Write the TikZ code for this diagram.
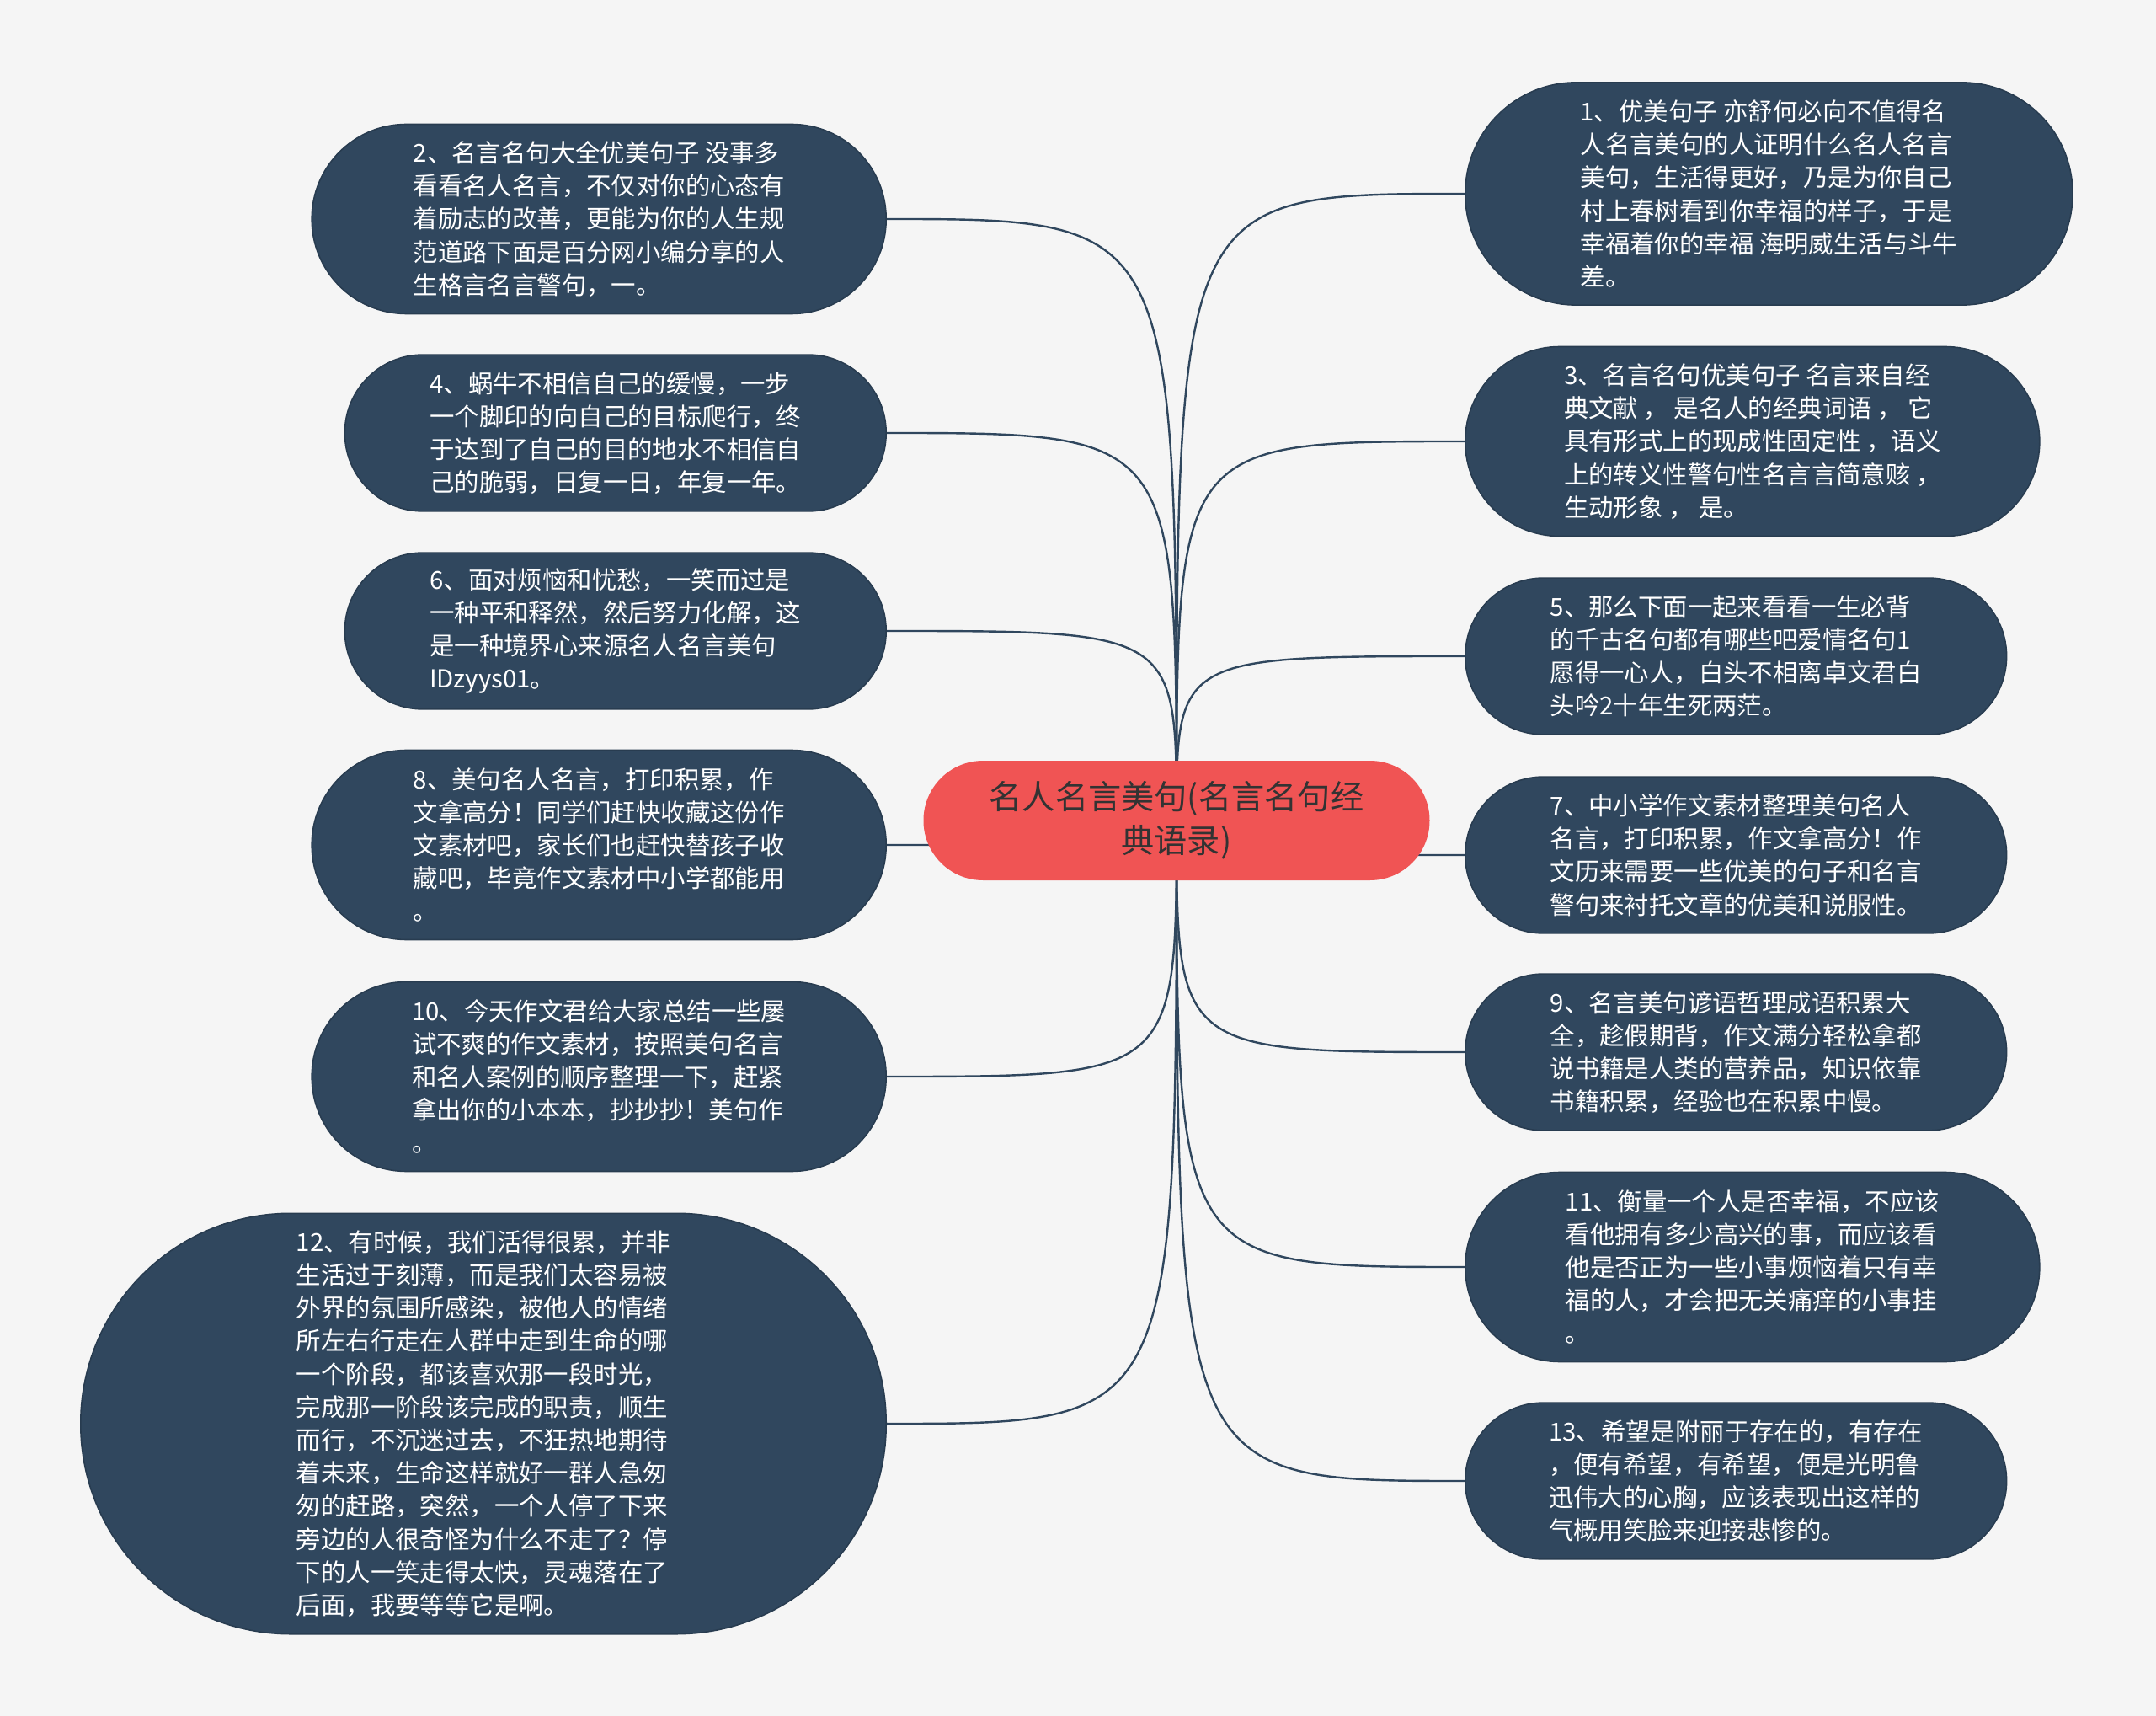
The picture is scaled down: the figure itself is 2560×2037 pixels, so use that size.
\documentclass[tikz,border=0pt]{standalone}
\usepackage{fontspec}
\newfontfamily\cjkfont{Noto Sans CJK SC}
\usepackage{tikz}
\usetikzlibrary{backgrounds}

\definecolor{pagebg}{HTML}{F5F5F5}
\definecolor{leafnavy}{HTML}{30475E}
\definecolor{leafedge}{HTML}{283C50}
\definecolor{rootred}{HTML}{F05454}
\definecolor{roottext}{HTML}{333333}

\begin{document}
\begin{tikzpicture}[x=0.5pt, y=-0.5pt]

  \tikzset{
    % #1 = number of text lines in the bubble
    leaf/.style={rectangle, draw=leafedge, fill=leafnavy,
      line width=0.8pt, text=white, align=left, inner sep=2pt,
      minimum height={(39.2*#1+29)*0.5pt},
      minimum width={(39.2*#1+486)*0.5pt},
      rounded corners={(39.2*#1+29)*0.2495pt},
      font=\cjkfont\fontsize{14.7pt}{19.6pt}\selectfont},
    rootbox/.style={rectangle, fill=rootred, text=roottext,
      minimum width=300.5pt, minimum height=71pt,
      rounded corners=35.4pt, inner sep=2pt, align=center,
      font=\cjkfont\fontsize{19.6pt}{26pt}\selectfont},
    link/.style={draw=leafnavy, line width=1.2pt}
  }

  \useasboundingbox (0,0) rectangle (2560,2037);

  \node[rootbox] (root) at (1397, 974) {
    名人名言美句(名言名句经\\
    典语录)
  };

  % left column
  \node[leaf=5, anchor=east] (l2) at (1053, 260) {
    2、名言名句大全优美句子 没事多\\
    看看名人名言，不仅对你的心态有\\
    着励志的改善，更能为你的人生规\\
    范道路下面是百分网小编分享的人\\
    生格言名言警句，一。
  };
  \node[leaf=4, anchor=east] (l4) at (1053, 514) {
    4、蜗牛不相信自己的缓慢，一步\\
    一个脚印的向自己的目标爬行，终\\
    于达到了自己的目的地水不相信自\\
    己的脆弱，日复一日，年复一年。
  };
  \node[leaf=4, anchor=east] (l6) at (1053, 749) {
    6、面对烦恼和忧愁，一笑而过是\\
    一种平和释然，然后努力化解，这\\
    是一种境界心来源名人名言美句\\
    IDzyys01。
  };
  \node[leaf=5, anchor=east] (l8) at (1053, 1003) {
    8、美句名人名言，打印积累，作\\
    文拿高分！同学们赶快收藏这份作\\
    文素材吧，家长们也赶快替孩子收\\
    藏吧，毕竟作文素材中小学都能用\\
    。
  };
  \node[leaf=5, anchor=east] (l10) at (1053, 1278) {
    10、今天作文君给大家总结一些屡\\
    试不爽的作文素材，按照美句名言\\
    和名人案例的顺序整理一下，赶紧\\
    拿出你的小本本，抄抄抄！美句作\\
    。
  };
  \node[leaf=12, anchor=east] (l12) at (1053, 1690) {
    12、有时候，我们活得很累，并非\\
    生活过于刻薄，而是我们太容易被\\
    外界的氛围所感染，被他人的情绪\\
    所左右行走在人群中走到生命的哪\\
    一个阶段，都该喜欢那一段时光，\\
    完成那一阶段该完成的职责，顺生\\
    而行，不沉迷过去，不狂热地期待\\
    着未来，生命这样就好一群人急匆\\
    匆的赶路，突然，一个人停了下来\\
    旁边的人很奇怪为什么不走了？停\\
    下的人一笑走得太快，灵魂落在了\\
    后面，我要等等它是啊。
  };

  % right column
  \node[leaf=6, anchor=west] (r1) at (1739, 230) {
    1、优美句子 亦舒何必向不值得名\\
    人名言美句的人证明什么名人名言\\
    美句，生活得更好，乃是为你自己\\
    村上春树看到你幸福的样子，于是\\
    幸福着你的幸福 海明威生活与斗牛\\
    差。
  };
  \node[leaf=5, anchor=west] (r3) at (1739, 524) {
    3、名言名句优美句子 名言来自经\\
    典文献 ， 是名人的经典词语 ， 它\\
    具有形式上的现成性固定性 ，语义\\
    上的转义性警句性名言言简意赅 ，\\
    生动形象 ， 是。
  };
  \node[leaf=4, anchor=west] (r5) at (1739, 779) {
    5、那么下面一起来看看一生必背\\
    的千古名句都有哪些吧爱情名句1\\
    愿得一心人，白头不相离卓文君白\\
    头吟2十年生死两茫。
  };
  \node[leaf=4, anchor=west] (r7) at (1739, 1015) {
    7、中小学作文素材整理美句名人\\
    名言，打印积累，作文拿高分！作\\
    文历来需要一些优美的句子和名言\\
    警句来衬托文章的优美和说服性。
  };
  \node[leaf=4, anchor=west] (r9) at (1739, 1249) {
    9、名言美句谚语哲理成语积累大\\
    全，趁假期背，作文满分轻松拿都\\
    说书籍是人类的营养品，知识依靠\\
    书籍积累，经验也在积累中慢。
  };
  \node[leaf=5, anchor=west] (r11) at (1739, 1504) {
    11、衡量一个人是否幸福，不应该\\
    看他拥有多少高兴的事，而应该看\\
    他是否正为一些小事烦恼着只有幸\\
    福的人，才会把无关痛痒的小事挂\\
    。
  };
  \node[leaf=4, anchor=west] (r13) at (1739, 1758) {
    13、希望是附丽于存在的，有存在\\
    ，便有希望，有希望，便是光明鲁\\
    迅伟大的心胸，应该表现出这样的\\
    气概用笑脸来迎接悲惨的。
  };

  % page and branches behind the nodes
  \begin{scope}[on background layer]
    \fill[pagebg] (0,0) rectangle (2560,2037);
    \foreach \leafname in {l2,l4,l6,l8,l10,l12}
      \draw[link] (root.center) .. controls (root.center |- \leafname.east) .. (\leafname.east);
    \foreach \leafname in {r1,r3,r5,r7,r9,r11,r13}
      \draw[link] (root.center) .. controls (root.center |- \leafname.west) .. (\leafname.west);
  \end{scope}

\end{tikzpicture}
\end{document}
